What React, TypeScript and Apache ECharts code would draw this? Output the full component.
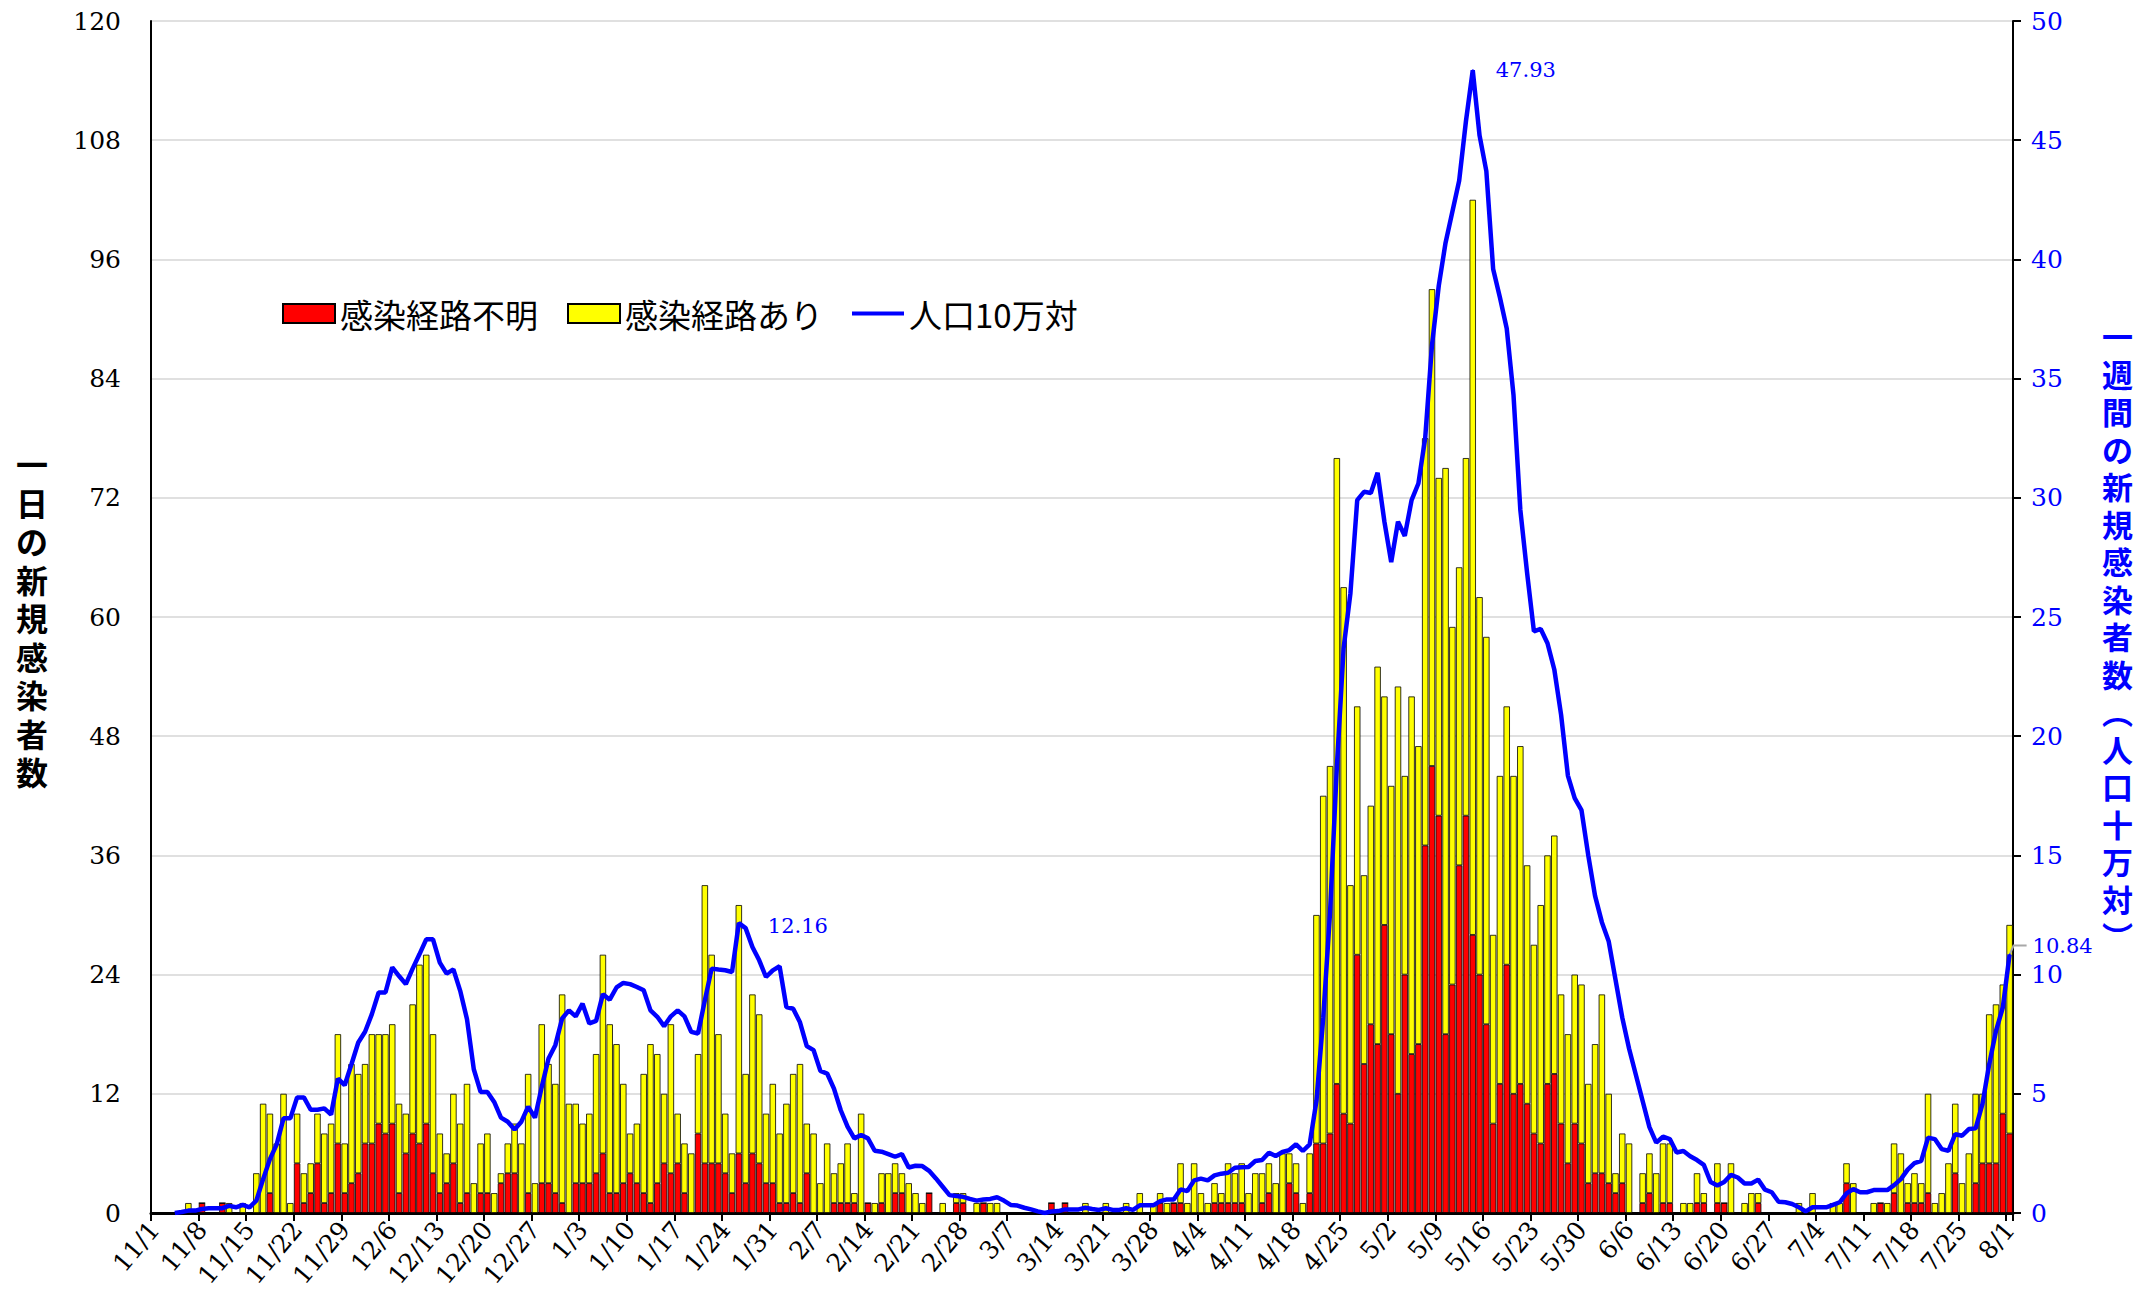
import React, { useEffect, useRef } from 'react';
import * as echarts from 'echarts';

// Dates 2020-11-01 .. 2021-08-01 (274 days)
const dates: string[] = (() => {
  const out: string[] = [];
  const d = new Date(2020, 10, 1);
  for (let i = 0; i < 274; i++) {
    out.push(`${d.getMonth() + 1}/${d.getDate()}`);
    d.setDate(d.getDate() + 1);
  }
  return out;
})();

// 感染経路不明 (daily)
const unknownRoute = [
  0,0,0,0,0,0,0,1,0,0,
  1,0,0,0,0,0,0,2,0,0,
  0,5,1,2,5,1,2,7,2,3,
  4,7,7,9,8,9,2,6,8,7,
  9,4,2,3,5,1,2,0,2,2,
  0,3,4,4,0,2,0,3,3,2,
  1,0,3,3,3,4,6,2,2,3,
  4,3,2,1,3,5,4,5,2,0,
  8,5,5,5,4,2,6,3,6,5,
  3,3,1,1,2,1,4,0,0,0,
  1,1,1,1,0,1,0,1,0,2,
  2,0,0,0,2,0,0,0,1,1,
  0,0,1,0,0,0,0,0,0,0,
  0,0,1,0,1,0,0,0,0,0,
  0,0,0,0,0,0,0,0,1,0,
  1,1,0,0,0,0,1,1,1,1,
  1,0,0,1,2,0,0,3,2,0,
  2,7,7,8,13,10,9,26,15,19,
  17,29,18,12,24,16,17,37,45,40,
  18,23,35,40,28,24,19,9,13,25,
  12,13,11,8,7,13,14,9,5,9,
  7,3,4,4,3,2,3,0,0,1,
  2,0,1,1,0,0,0,1,1,0,
  1,1,0,0,0,0,1,0,0,0,
  0,0,0,0,0,0,0,0,0,3,
  0,0,0,0,1,0,2,0,1,1,
  1,2,0,0,0,4,0,0,3,5,
  5,5,10,8,
];

// 感染経路あり (daily)
const knownRoute = [
  0,0,0,0,0,1,0,0,0,0,
  0,1,0,1,0,4,11,8,7,12,
  1,5,3,3,5,7,7,11,5,12,
  10,8,11,9,10,10,9,4,13,18,
  17,14,6,3,7,8,11,3,5,6,
  2,1,3,5,7,12,3,16,12,11,
  21,11,8,6,7,12,20,17,15,10,
  4,6,12,16,13,7,15,5,5,6,
  8,28,21,13,6,4,25,11,16,15,
  7,10,7,10,12,14,5,8,3,7,
  3,4,6,1,10,0,1,3,4,3,
  2,3,2,1,0,0,1,0,1,1,
  0,1,0,1,1,0,0,0,0,0,
  0,0,0,0,0,0,0,1,0,0,
  1,0,0,1,0,2,0,1,1,1,
  0,4,1,5,2,1,2,1,4,3,
  4,2,4,3,3,3,6,3,3,1,
  4,23,35,37,63,53,24,25,19,22,
  38,23,25,41,20,36,30,41,48,34,
  57,36,30,36,74,38,39,19,31,26,
  32,34,24,19,24,23,24,13,13,15,
  16,10,13,18,9,2,5,7,0,3,
  4,4,6,6,0,1,1,3,1,0,
  4,0,5,0,1,2,1,0,0,0,
  0,0,1,0,2,0,0,1,1,2,
  3,0,0,1,0,1,5,6,2,3,
  2,10,1,2,5,7,3,6,9,7,
  15,16,13,21,
];

// 人口10万対 (weekly new cases per 100k)
const per100k: (number | null)[] = [
  null,null,null,0,0.04,0.1,0.1,0.17,0.2,0.2,
  0.2,0.3,0.24,0.34,0.24,0.52,1.42,2.26,2.88,3.97,
  3.97,4.85,4.85,4.33,4.33,4.39,4.13,5.64,5.36,6.24,
  7.15,7.6,8.34,9.25,9.25,10.3,9.94,9.6,10.25,10.85,
  11.48,11.48,10.5,10.04,10.22,9.32,8.13,6.03,5.08,5.08,
  4.66,4.0,3.83,3.5,3.83,4.46,4.0,5.29,6.48,7.04,
  8.16,8.5,8.25,8.78,7.95,8.06,9.18,8.95,9.46,9.65,
  9.6,9.48,9.34,8.5,8.23,7.84,8.25,8.5,8.25,7.6,
  7.53,8.92,10.25,10.21,10.18,10.11,12.16,11.95,11.16,10.6,
  9.9,10.18,10.35,8.64,8.57,8.0,7.0,6.83,5.96,5.85,
  5.22,4.31,3.62,3.13,3.27,3.13,2.61,2.57,2.47,2.36,
  2.47,1.91,1.98,1.97,1.77,1.45,1.1,0.75,0.71,0.68,
  0.59,0.52,0.57,0.59,0.66,0.52,0.34,0.31,0.22,0.15,
  0.07,0,0.06,0.08,0.15,0.15,0.15,0.22,0.17,0.13,
  0.2,0.13,0.13,0.2,0.13,0.32,0.32,0.32,0.5,0.57,
  0.57,0.99,0.92,1.37,1.44,1.37,1.58,1.65,1.69,1.9,
  1.92,1.93,2.18,2.22,2.53,2.39,2.56,2.64,2.88,2.6,
  2.88,4.7,8.2,12.6,18.7,23.7,26.0,29.9,30.25,30.2,
  31.05,29.0,27.3,29.0,28.4,29.9,30.6,32.5,36.4,38.9,
  40.7,42.0,43.3,45.8,47.93,45.2,43.7,39.6,38.4,37.1,
  34.3,29.5,26.85,24.4,24.5,23.9,22.8,20.9,18.35,17.4,
  16.9,15.0,13.3,12.2,11.4,9.8,8.2,6.9,5.8,4.7,
  3.6,2.95,3.2,3.1,2.54,2.6,2.38,2.22,2.02,1.3,
  1.15,1.3,1.6,1.49,1.24,1.24,1.4,0.98,0.87,0.47,
  0.45,0.38,0.24,0.07,0.24,0.24,0.24,0.34,0.45,0.82,
  1.0,0.87,0.87,0.96,0.96,0.96,1.17,1.42,1.82,2.09,
  2.19,3.16,3.1,2.68,2.61,3.31,3.24,3.52,3.55,4.57,
  6.24,7.64,8.62,10.84,
];

// points whose value is written on the chart
const annotatedDays = [86, 194, 273];

const leftName = '一日の新規感染者数';
const rightName = '一週間の新規感染者数︵人口十万対︶';

const SERIF = '"DejaVu Serif", "Liberation Serif", serif';
const GOTHIC = '"Noto Sans CJK JP", "Noto Sans", sans-serif';
const BLUE = '#0000ff';

export default function App() {
  const ref = useRef<HTMLDivElement>(null);
  useEffect(() => {
    if (!ref.current) return;
    const chart = echarts.init(ref.current, undefined, { renderer: 'svg' });

    const lastIdx = per100k.length - 1;
    const lineData = per100k.map((v, i) => {
      if (annotatedDays.indexOf(i) < 0) return v;
      const last = i === lastIdx;
      return {
        value: v,
        symbol: 'circle',
        symbolSize: 2,
        itemStyle: { color: BLUE },
        label: {
          show: true,
          position: 'right',
          distance: last ? 22 : i === 86 ? 28 : 22,
          offset: last ? [0, -9] : i === 86 ? [0, 3] : [0, 0],
          formatter: (p: any) => Number(p.value).toFixed(2),
          color: BLUE,
          fontFamily: SERIF,
          fontSize: 21,
        },
      };
    });

    chart.setOption({
      animation: false,
      backgroundColor: '#ffffff',
      grid: { left: 151, right: 141, top: 21, bottom: 93, containLabel: false },
      legend: {
        left: 277,
        top: 292,
        itemWidth: 52,
        itemHeight: 19,
        itemGap: 29,
        symbolKeepAspect: true,
        textStyle: { fontFamily: GOTHIC, fontSize: 33, color: '#000' },
        data: [
          { name: '感染経路不明', icon: 'rect' },
          { name: '感染経路あり', icon: 'rect' },
          { name: '人口10万対', icon: 'path://M0,0H100V8H0Z' },
        ],
      },
      xAxis: {
        type: 'category',
        data: dates,
        boundaryGap: true,
        axisLine: { lineStyle: { color: '#000', width: 3 } },
        axisTick: { show: true, interval: 6, length: 8, lineStyle: { color: '#000', width: 2 } },
        axisLabel: {
          interval: 6,
          rotate: 50,
          margin: 12,
          fontFamily: SERIF,
          fontSize: 25,
          color: '#000',
        },
        splitLine: { show: false },
      },
      yAxis: [
        {
          type: 'value',
          min: 0,
          max: 120,
          interval: 12,
          position: 'left',
          name: leftName.split('').join('\n'),
          nameLocation: 'middle',
          nameRotate: 0,
          nameGap: 103,
          nameTextStyle: {
            fontFamily: GOTHIC,
            fontSize: 32,
            fontWeight: 'bold',
            lineHeight: 38.5,
            color: '#000',
          },
          axisLine: { show: true, lineStyle: { color: '#000', width: 2 } },
          axisTick: { show: false },
          axisLabel: { fontFamily: SERIF, fontSize: 25, color: '#000', margin: 30 },
          splitLine: { show: true, lineStyle: { color: '#d6d6d6', width: 1.5 } },
        },
        {
          type: 'value',
          min: 0,
          max: 50,
          interval: 5,
          position: 'right',
          name: '\n' + rightName.split('').join('\n'),
          nameLocation: 'middle',
          nameRotate: 0,
          nameGap: 89,
          nameTextStyle: {
            fontFamily: GOTHIC,
            fontSize: 31,
            fontWeight: 'bold',
            lineHeight: 37.5,
            color: BLUE,
          },
          axisLine: { show: true, lineStyle: { color: '#000', width: 2 } },
          axisTick: { show: true, length: 8, lineStyle: { color: '#000', width: 2 } },
          axisLabel: { fontFamily: SERIF, fontSize: 25, color: BLUE, margin: 18 },
          splitLine: { show: false },
        },
      ],
      series: [
        {
          name: '感染経路不明',
          type: 'bar',
          stack: 'cases',
          data: unknownRoute,
          barCategoryGap: '6%',
          itemStyle: { color: '#ff0000', borderColor: '#000', borderWidth: 0.8 },
        },
        {
          name: '感染経路あり',
          type: 'bar',
          stack: 'cases',
          data: knownRoute,
          barCategoryGap: '6%',
          itemStyle: { color: '#ffff00', borderColor: '#000', borderWidth: 0.8 },
        },
        {
          name: '人口10万対',
          type: 'line',
          yAxisIndex: 1,
          data: lineData,
          symbol: 'none',
          showSymbol: true,
          showAllSymbol: true,
          connectNulls: false,
          lineStyle: { color: BLUE, width: 4.5 },
          itemStyle: { color: BLUE },
          z: 5,
        },
      ],
    });

    // leader line from the last point to its label, placed through the axes' scales
    const p = chart.convertToPixel({ xAxisIndex: 0, yAxisIndex: 1 }, [lastIdx, per100k[lastIdx] as number]);
    if (p) {
      chart.setOption({
        graphic: [
          {
            type: 'polyline',
            shape: { points: [[p[0], p[1]], [p[0] + 4, p[1] - 9], [p[0] + 17, p[1] - 9]] },
            style: { stroke: '#a8a8a8', lineWidth: 2, fill: null },
            z: 4,
          },
        ],
      });
    }

    return () => chart.dispose();
  }, []);

  return (
    <div
      ref={ref}
      style={{ position: 'fixed', left: 0, top: 0, width: 2154, height: 1306, background: '#fff' }}
    />
  );
}
